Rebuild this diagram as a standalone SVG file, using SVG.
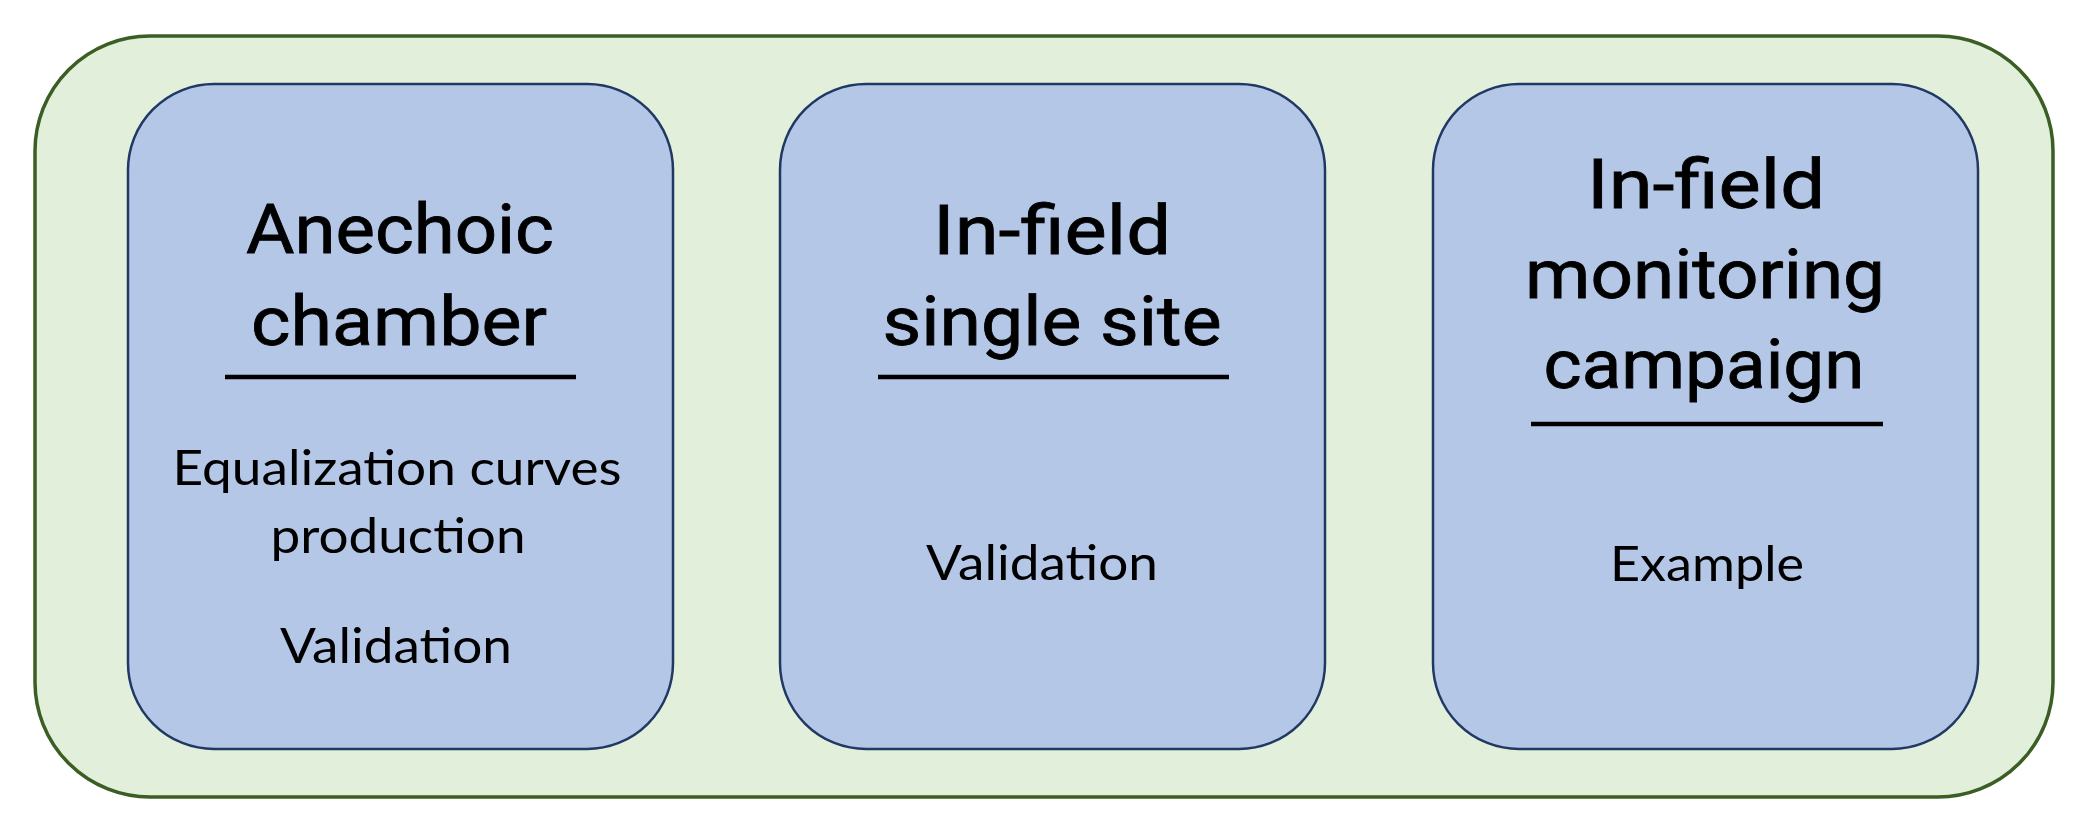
<svg xmlns="http://www.w3.org/2000/svg" width="2084" height="826" viewBox="0 0 2084 826">
<style>
.outer{fill:#E2EFDA;stroke:#3A5E23;stroke-width:3.5}
.box{fill:#B4C7E7;stroke:#203864;stroke-width:2.5}
.title{font-family:Roboto,"Noto Sans",sans-serif;font-size:68px;font-weight:400;fill:#000;text-anchor:middle;stroke:#000;stroke-width:0.8}
.body{font-family:Lato,"Open Sans",sans-serif;font-size:48px;fill:#000;text-anchor:middle}
.rule{stroke:#000;stroke-width:4.5}
</style>
<rect width="2084" height="826" fill="#FFFFFF"/>
<g id="container">
<rect class="outer" x="35" y="36" width="2018" height="761" rx="115" ry="115"/>
</g>
<g id="node-anechoic">
<rect class="box" x="128" y="84" width="545" height="665" rx="86" ry="86"/>
<text class="title" x="400" y="253" textLength="308" lengthAdjust="spacingAndGlyphs">Anechoic</text>
<text class="title" x="399" y="345" textLength="296" lengthAdjust="spacingAndGlyphs">chamber</text>
<line class="rule" x1="225" y1="377" x2="576" y2="377"/>
<text class="body" x="397" y="485" textLength="449" lengthAdjust="spacingAndGlyphs">Equalization curves</text>
<text class="body" x="398" y="553" textLength="255" lengthAdjust="spacingAndGlyphs">production</text>
<text class="body" x="396" y="663" textLength="232" lengthAdjust="spacingAndGlyphs">Validation</text>
</g>
<g id="node-single-site">
<rect class="box" x="780" y="84" width="545" height="665" rx="86" ry="86"/>
<text class="title" x="1052" y="254" textLength="238" lengthAdjust="spacingAndGlyphs">In-field</text>
<text class="title" x="1052" y="345" textLength="339" lengthAdjust="spacingAndGlyphs">single site</text>
<line class="rule" x1="878" y1="377" x2="1229" y2="377"/>
<text class="body" x="1042" y="580" textLength="232" lengthAdjust="spacingAndGlyphs">Validation</text>
</g>
<g id="node-monitoring">
<rect class="box" x="1433" y="84" width="545" height="665" rx="86" ry="86"/>
<text class="title" x="1706" y="208" textLength="238" lengthAdjust="spacingAndGlyphs">In-field</text>
<text class="title" x="1705" y="298" textLength="360" lengthAdjust="spacingAndGlyphs">monitoring</text>
<text class="title" x="1704" y="388" textLength="321" lengthAdjust="spacingAndGlyphs">campaign</text>
<line class="rule" x1="1531" y1="424" x2="1883" y2="424"/>
<text class="body" x="1707" y="581" textLength="194" lengthAdjust="spacingAndGlyphs">Example</text>
</g>
<g id="connectors"/>
</svg>
